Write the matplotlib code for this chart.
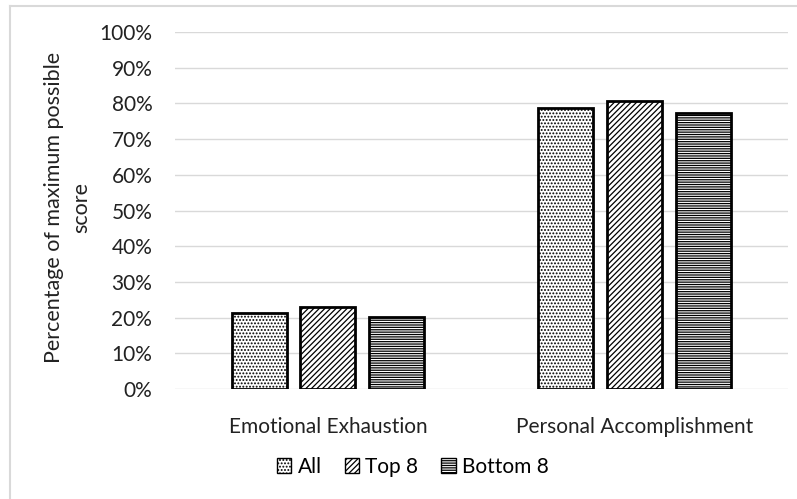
import matplotlib
matplotlib.use("Agg")
import matplotlib.pyplot as plt
from matplotlib.patches import Patch
from matplotlib.lines import Line2D
import numpy as np

categories = ["Emotional Exhaustion", "Personal Accomplishment"]
series_names = ["All", "Top 8", "Bottom 8"]
all_vals = [21.3, 78.8]
top8_vals = [22.9, 80.6]
bottom8_vals = [20.3, 77.3]
yticks = [0, 10, 20, 30, 40, 50, 60, 70, 80, 90, 100]

plt.rcParams['font.family'] = ['Lato', 'DejaVu Sans']
plt.rcParams['hatch.linewidth'] = 0.9

fig = plt.figure(figsize=(7.97, 4.99), dpi=100)
ax = fig.add_axes([0.219, 0.2204, 0.7697, 0.7155])

x = np.arange(len(categories))
w = 0.179
step = 0.224
hatches = ['.....', '//////', '-------']
data = [all_vals, top8_vals, bottom8_vals]
for i, (vals, h, name) in enumerate(zip(data, hatches, series_names)):
    ax.bar(x + (i - 1) * step, vals, width=w, color='white', edgecolor='black',
           hatch=h, linewidth=2, label=name, zorder=3)

ax.set_xlim(-0.5, 1.5)
ax.set_ylim(0, 100)
ax.set_yticks(yticks)
ax.set_yticklabels([f"{t}%" for t in yticks], fontsize=15, color='#222222')
ax.set_xticks(x)
ax.set_xticklabels(categories, fontsize=15, color='#222222')
ax.tick_params(axis='x', length=0, pad=20)
ax.tick_params(axis='y', length=0, pad=16)
ax.yaxis.grid(True, color='#d9d9d9', linewidth=1, zorder=0)
for s in ax.spines.values():
    s.set_visible(False)

fig.text(0.085, 0.585, "Percentage of maximum possible\nscore", rotation=90,
         ha='center', va='center', multialignment='center', fontsize=15.5,
         color='#222222', linespacing=1.45)

handles = [Patch(facecolor='white', edgecolor='black', hatch=h, linewidth=1)
           for h in hatches]
fig.legend(handles, series_names, loc='center', bbox_to_anchor=(0.518, 0.064),
           ncol=3, frameon=False, fontsize=15, handlelength=0.7,
           handleheight=0.7, handletextpad=0.3, columnspacing=1.1)

# chart frame (partial border)
fig.add_artist(Line2D([0.0125, 0.0125], [0, 0.988], transform=fig.transFigure,
                      color='#d9d9d9', linewidth=1.5))
fig.add_artist(Line2D([0.0125, 1.0], [0.988, 0.988], transform=fig.transFigure,
                      color='#d9d9d9', linewidth=1.5))

fig.savefig("out.png", dpi=100)
